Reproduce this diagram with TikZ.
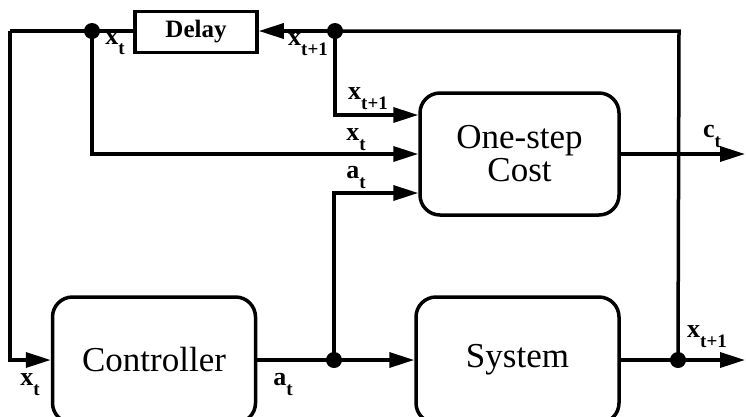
\documentclass[tikz,border=0pt]{standalone}
\usepackage{fontspec}
\setmainfont{Liberation Serif}
\usetikzlibrary{arrows.meta,calc}
\newcommand{\lbl}[2]{{\fontsize{26}{26}\selectfont\bfseries #1\raisebox{-10pt}{\fontsize{19}{19}\selectfont\bfseries #2}}}
\begin{document}
\begin{tikzpicture}[x=1pt,y=-1pt,
  wire/.style={line width=3.5pt},
  arr/.style={line width=3.5pt,-{Triangle[length=25pt,width=15pt]}},
  block/.style={draw,line width=3.5pt,rounded corners=20pt,minimum width=203pt,minimum height=126pt,align=center,font=\fontsize{35}{33}\selectfont,inner sep=0pt},
  delaybox/.style={draw,line width=3.5pt,minimum width=122pt,minimum height=41pt,font=\fontsize{25}{25}\selectfont\bfseries,inner sep=0pt},
  dot/.style={circle,fill,inner sep=0pt,minimum size=16pt},
  lab/.style={inner sep=0pt}]
\useasboundingbox (0,0) rectangle (746,416);
\fill[white] (0,0) rectangle (746,416);
\clip (0,0) rectangle (746,416);
% blocks
\node[delaybox] (delay) at (196,32) {Delay};
\node[block] (ctrl) at (154,360) {Controller};
\node[block] (sys) at (517.5,360) {System};
\node[block,minimum width=199pt,minimum height=122pt] (cost) at (519.5,154) {One-step\\Cost};
% junctions
\node[dot] (jl) at (92,31) {};
\node[dot] (jr) at (335,31) {};
\node[dot] (jc) at (334,360) {};
\node[dot] (js) at (678,360) {};
\coordinate (cl) at (10,31);
\coordinate (ctop) at (679,31);
\coordinate (out1) at (745,154);
\coordinate (out2) at (745,360);
% wires
\draw[wire] (js.center) -- (ctop) -- (jr.center);
\draw[arr] (jr.center) -- (delay.east |- jr);
\draw[wire] (delay.west |- jl) -- (jl.center) -- (cl);
\draw[arr] (cl) |- (ctrl.west);
\draw[arr] (jl.center) |- (cost.west);
\draw[arr] (jr.center) |- ([yshift=39pt]cost.west);
\draw[arr] (jc.center) |- ([yshift=-39pt]cost.west);
\draw[wire] (ctrl.east) -- (jc.center);
\draw[arr] (jc.center) -- (sys.west);
\draw[wire] (sys.east) -- (js.center);
\draw[arr] (js.center) -- (out2);
\draw[arr] (cost.east) -- (out1);
% labels
\node[lab] (l1) at (115,44) {\lbl{x}{t}};
\node[lab] (l2) at (308,45) {\lbl{x}{t+1}};
\node[lab] (l3) at (368,99) {\lbl{x}{t+1}};
\node[lab] (l4) at (356,140) {\lbl{x}{t}};
\node[lab] (l5) at (356,177) {\lbl{a}{t}};
\node[lab] (l6) at (712,136) {\lbl{c}{t}};
\node[lab] (l7) at (30,385) {\lbl{x}{t}};
\node[lab] (l8) at (283,384) {\lbl{a}{t}};
\node[lab] (l9) at (707,337) {\lbl{x}{t+1}};
\end{tikzpicture}
\end{document}
